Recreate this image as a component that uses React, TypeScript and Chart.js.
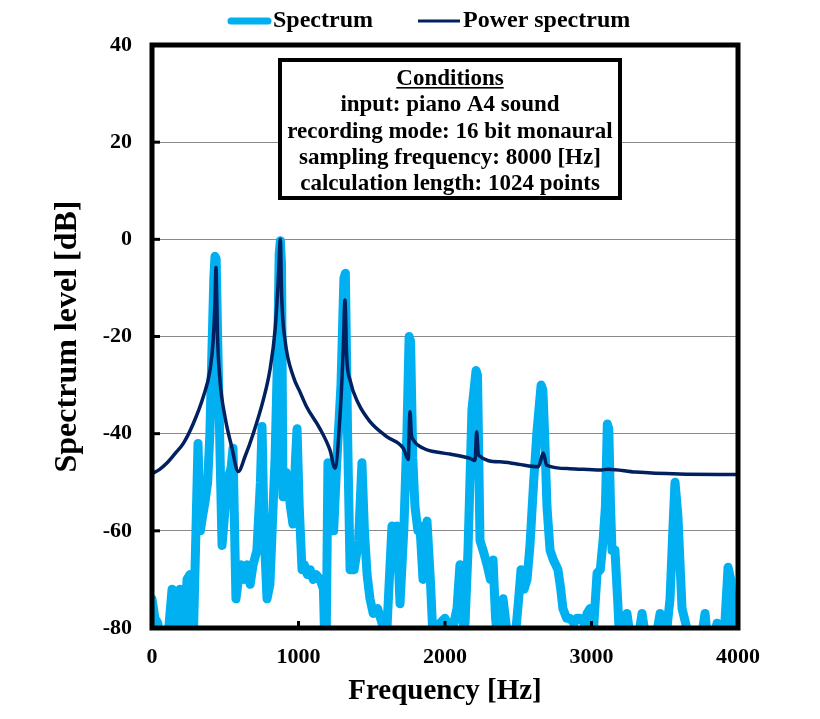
import React, { useEffect, useRef } from "react";
import { Chart, registerables } from "chart.js";

Chart.register(...registerables);

// ---- Data ----
const spectrumFreq = [
  0, 20, 40, 60, 100, 137, 157, 191, 215, 239, 259, 280, 300, 314, 330, 345, 362, 380, 395, 410, 422, 430,
  438, 448, 465, 478, 500, 512, 540, 553, 573, 590, 610, 630, 650, 670, 690, 716, 740, 751, 765, 785, 805,
  820, 840, 860, 868, 876, 884, 894, 915, 928, 945, 962, 980, 990, 1005, 1024, 1040, 1060, 1080, 1100, 1120, 1147,
  1170, 1181, 1190, 1201, 1220, 1240, 1261, 1290, 1310, 1320, 1335, 1352, 1380, 1410, 1433, 1450, 1468, 1488, 1510, 1540, 1570,
  1590, 1604, 1620, 1638, 1660, 1672, 1693, 1710, 1720, 1740, 1755, 1765, 1780, 1795, 1815, 1829, 1850, 1877, 1900, 1918, 1940,
  1966, 2000, 2030, 2060, 2082, 2102, 2123, 2137, 2157, 2184, 2212, 2222, 2239, 2260, 2287, 2310, 2328, 2345, 2370, 2396, 2420,
  2440, 2470, 2500, 2519, 2540, 2560, 2580, 2605, 2628, 2656, 2668, 2680, 2696, 2717, 2740, 2771, 2790, 2805, 2830, 2853, 2880,
  2900, 2921, 2950, 2970, 2990, 3010, 3038, 3060, 3079, 3095, 3108, 3118, 3130, 3140, 3160, 3180, 3195, 3220, 3242, 3265, 3290,
  3320, 3345, 3370, 3400, 3440, 3468, 3490, 3515, 3536, 3555, 3570, 3590, 3618, 3650, 3680, 3720, 3750, 3775, 3800, 3835,
  3857, 3880, 3905, 3932, 3950, 3966, 3985, 4000,
];
const spectrumDb = [
  -74, -78, -79, -85, -85, -72, -85, -72, -85, -70, -69, -85, -60, -42, -60, -57, -54, -50, -40, -22, -8, -3.5,
  -4, -20, -45, -63, -55, -50, -47, -43, -74, -70, -67, -70, -67, -71, -67, -64, -50, -38.5, -60, -74, -71,
  -60, -45, -20, -3, -0.3, -5, -53, -48, -50, -55, -58.6, -45, -39, -55, -68, -67, -69, -68, -70, -69, -70,
  -72, -85, -80, -46, -60, -60, -46, -30, -8, -7, -40, -68, -68, -62, -46, -60, -69, -74, -77, -76, -79,
  -80, -80, -70, -59, -60, -59, -75, -65, -59, -40, -20, -21, -45, -55, -60, -59, -70, -58, -70, -82, -80,
  -79, -78, -80, -79, -76, -67, -79, -79, -64, -35, -27, -28, -62, -64, -67, -70, -66, -78, -85, -74, -80,
  -85, -85, -75, -68, -72, -70, -63, -50, -39.5, -30, -31, -40, -55, -64, -66, -68, -72, -76, -78, -78, -79,
  -78, -78, -79, -77, -76, -82, -68.7, -68, -62, -55, -38, -39, -55, -64, -64, -75, -85, -82, -77, -82, -85,
  -82, -77, -82, -85, -82, -77, -82, -80, -74, -60, -50, -57, -76, -80, -85, -85, -82, -77, -85, -82,
  -79, -85, -82, -67.5, -70, -79, -80, -80,
];

const powerFreq = [
  0, 50, 100, 160, 214, 282, 350, 396, 418, 430, 437, 442, 446, 464, 498, 544, 589, 635, 692, 760,
  805, 840, 862, 876, 885, 908, 965, 1010, 1056, 1147, 1215, 1249, 1283, 1306, 1317, 1329, 1352, 1409, 1488, 1602,
  1715, 1749, 1761, 1770, 1784, 1852, 1989, 2034, 2171, 2205, 2216, 2228, 2375, 2500, 2637, 2671, 2694, 2850, 3058, 3113,
  3300, 3600, 4000,
];
const powerDb = [
  -48.2, -47.4, -46.1, -44, -42, -37.9, -32.4, -26.9, -20.7, -13, -5.8, -12, -18.7, -29, -36.5, -42.7, -47.8, -44.7, -39.9, -33,
  -26.9, -18.7, -8.4, 0, -11.8, -20.7, -28.3, -31.4, -34.5, -39, -43.4, -47.1, -36.5, -22.1, -12.5, -24.2, -29, -33.8, -37.5, -40.6,
  -43, -45.3, -35.5, -40, -41.3, -43, -44, -44.2, -45.1, -45.5, -39.6, -44.4, -45.8, -46.3, -46.8, -44, -46.5, -47.2, -47.5, -47.3,
  -47.9, -48.3, -48.4,
];

const yTickValues = [40, 20, 0, -20, -40, -60, -80];
const xTickValues = [0, 1000, 2000, 3000, 4000];

const seriesNames = ["Spectrum", "Power spectrum"];
const conditionLines = [
  "Conditions",
  "input: piano A4 sound",
  "recording mode: 16 bit monaural",
  "sampling frequency: 8000 [Hz]",
  "calculation length: 1024 points",
];

const SPEC_COLOR = "#00B0F0";
const POWER_COLOR = "#002060";
const FONT = "'Liberation Serif', 'Times New Roman', serif";

const overlayPlugin = {
  id: "overlay",
  afterDatasetsDraw(chart: any) {
    const { ctx, chartArea: a, scales } = chart;
    ctx.save();
    // frame
    ctx.strokeStyle = "#000";
    ctx.lineWidth = 5;
    ctx.strokeRect(a.left, a.top, a.right - a.left, a.bottom - a.top);
    // inner tick marks
    ctx.lineWidth = 3;
    ctx.lineCap = "butt";
    yTickValues.forEach((v) => {
      const y = scales.y.getPixelForValue(v);
      ctx.beginPath();
      ctx.moveTo(a.left, y);
      ctx.lineTo(a.left + 8, y);
      ctx.stroke();
    });
    xTickValues.forEach((v) => {
      const x = scales.x.getPixelForValue(v);
      ctx.beginPath();
      ctx.moveTo(x, a.bottom);
      ctx.lineTo(x, a.bottom - 7);
      ctx.stroke();
    });

    // conditions box
    const bx = a.left + 128;
    const by = a.top + 15;
    const bw = 340;
    const bh = 138;
    ctx.fillStyle = "#fff";
    ctx.fillRect(bx, by, bw, bh);
    ctx.lineWidth = 4;
    ctx.strokeStyle = "#000";
    ctx.strokeRect(bx, by, bw, bh);
    ctx.fillStyle = "#000";
    ctx.font = `bold 23px ${FONT}`;
    ctx.textAlign = "center";
    ctx.textBaseline = "middle";
    const cx = bx + bw / 2;
    conditionLines.forEach((t, i) => {
      const ty = by + 19 + i * 26.3;
      ctx.fillText(t, cx, ty);
      if (i === 0) {
        const w = ctx.measureText(t).width;
        ctx.fillRect(cx - w / 2, ty + 8, w, 1.6);
      }
    });

    // legend
    ctx.textAlign = "left";
    ctx.font = `bold 24px ${FONT}`;
    const ly = 21;
    let x = 228;
    ctx.lineCap = "round";
    ctx.strokeStyle = SPEC_COLOR;
    ctx.lineWidth = 7;
    ctx.beginPath();
    ctx.moveTo(x + 3, ly);
    ctx.lineTo(x + 40, ly);
    ctx.stroke();
    x += 45;
    ctx.fillStyle = "#000";
    ctx.fillText(seriesNames[0], x, ly);
    x += ctx.measureText(seriesNames[0]).width + 45;
    ctx.strokeStyle = POWER_COLOR;
    ctx.lineWidth = 3;
    ctx.lineCap = "butt";
    ctx.beginPath();
    ctx.moveTo(x, ly);
    ctx.lineTo(x + 42, ly);
    ctx.stroke();
    x += 45;
    ctx.fillText(seriesNames[1], x, ly);
    ctx.restore();
  },
};

export default function App() {
  const ref = useRef<HTMLCanvasElement | null>(null);
  useEffect(() => {
    if (!ref.current) return;
    const chart = new Chart(ref.current, {
      type: "line",
      data: {
        datasets: [
          {
            label: seriesNames[0],
            data: spectrumFreq.map((f, i) => ({ x: f, y: spectrumDb[i] })),
            borderColor: SPEC_COLOR,
            backgroundColor: SPEC_COLOR,
            borderWidth: 9,
            borderJoinStyle: "round",
            borderCapStyle: "round",
            pointRadius: 0,
            tension: 0,
            clip: 0,
            order: 2,
          },
          {
            label: seriesNames[1],
            data: powerFreq.map((f, i) => ({ x: f, y: powerDb[i] })),
            borderColor: POWER_COLOR,
            backgroundColor: POWER_COLOR,
            borderWidth: 3.5,
            borderJoinStyle: "round",
            pointRadius: 0,
            cubicInterpolationMode: "monotone",
            clip: 0,
            order: 1,
          },
        ],
      },
      options: {
        responsive: false,
        animation: false,
        layout: { padding: { top: 45, right: 82, bottom: 0, left: 0 } },
        plugins: {
          legend: { display: false },
          tooltip: { enabled: false },
        },
        scales: {
          x: {
            type: "linear",
            min: 0,
            max: 4000,
            afterBuildTicks: (s: any) => {
              s.ticks = xTickValues.map((v) => ({ value: v }));
            },
            afterFit: (s: any) => {
              s.height = 91;
            },
            grid: { display: false, drawTicks: false },
            border: { display: false },
            ticks: {
              color: "#000",
              padding: 16,
              maxRotation: 0,
              callback: (v: any) => String(v),
              font: { family: FONT, size: 22, weight: "bold" },
            },
            title: {
              display: true,
              text: "Frequency [Hz]",
              color: "#000",
              font: { family: FONT, size: 29, weight: "bold" },
              padding: { top: 0, bottom: 10 },
            },
          },
          y: {
            type: "linear",
            min: -80,
            max: 40,
            afterBuildTicks: (s: any) => {
              s.ticks = yTickValues.slice().reverse().map((v) => ({ value: v }));
            },
            afterFit: (s: any) => {
              s.width = 152;
            },
            grid: { color: "#8a8a8a", lineWidth: 1, drawTicks: false },
            border: { display: false },
            ticks: {
              color: "#000",
              padding: 20,
              callback: (v: any) => String(v),
              font: { family: FONT, size: 22, weight: "bold" },
            },
            title: {
              display: true,
              text: "Spectrum level [dB]",
              color: "#000",
              font: { family: FONT, size: 32, weight: "bold" },
              padding: { top: 49, bottom: 0 },
            },
          },
        },
      },
      plugins: [overlayPlugin],
    } as any);
    return () => chart.destroy();
  }, []);

  return (
    <div
      style={{
        position: "fixed",
        left: 0,
        top: 0,
        width: 820,
        height: 719,
        background: "#fff",
      }}
    >
      <canvas ref={ref} width={820} height={719} style={{ display: "block" }} />
    </div>
  );
}
